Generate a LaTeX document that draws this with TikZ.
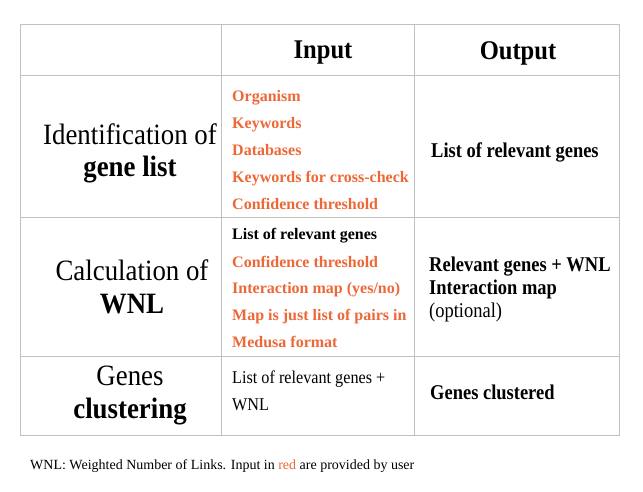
\documentclass[tikz,border=0pt]{standalone}
\usepackage{fontspec}
\setmainfont{Liberation Serif}
\newfontfamily\lcolfont[FakeStretch=0.91]{Liberation Serif}
\newfontfamily\ocolfont[FakeStretch=0.88]{Liberation Serif}
\newfontfamily\icolfont[FakeStretch=0.9]{Liberation Serif}
\definecolor{usr}{RGB}{237,104,56}
\definecolor{gridc}{RGB}{192,192,192}
\tikzset{
  gridline/.style={draw=gridc, line width=1pt},
  hdrtext/.style={inner sep=0pt, anchor=base, font=\lcolfont\bfseries\fontsize{27}{27}\selectfont},
  lefttext/.style={inner sep=0pt, anchor=base, font=\lcolfont\fontsize{29.5}{30}\selectfont},
  intext/.style={inner sep=0pt, anchor=base west, font=\bfseries\fontsize{16}{16}\selectfont, text=usr},
  inplain/.style={inner sep=0pt, anchor=base west, font=\icolfont\fontsize{18}{18}\selectfont},
  outtext/.style={inner sep=0pt, anchor=base west, font=\ocolfont\bfseries\fontsize{21}{21}\selectfont},
  outplain/.style={inner sep=0pt, anchor=base west, font=\ocolfont\fontsize{21}{21}\selectfont},
  notetext/.style={inner sep=0pt, anchor=base west, font=\fontsize{14}{14}\selectfont},
}
\begin{document}
\begin{tikzpicture}[x=1pt,y=-1pt]
\useasboundingbox (0,0) rectangle (643,492);
\fill[white] (0,0) rectangle (643,492);
% grid
\draw[gridline] (20,25) rectangle (619,435);
\draw[gridline] (20,76) -- (619,76);
\draw[gridline] (20,217) -- (619,217);
\draw[gridline] (20,356) -- (619,356);
\draw[gridline] (221,25) -- (221,435);
\draw[gridline] (414,25) -- (414,435);
% header
\node[hdrtext] (hin) at (323,59) {Input};
\node[hdrtext] (hout) at (518,60) {Output};
% left column
\node[lefttext] (l1a) at (130,145) {Identification of};
\node[lefttext] (l1b) at (130,177) {\bfseries gene list};
\node[lefttext] (l2a) at (132,280) {Calculation of};
\node[lefttext] (l2b) at (132,313) {\bfseries WNL};
\node[lefttext] (l3a) at (130,385) {Genes};
\node[lefttext] (l3b) at (130,418) {\bfseries clustering};
% input column row 1
\node[intext] (i11) at (232,102) {Organism};
\node[intext] (i12) at (232,128.5) {Keywords};
\node[intext] (i13) at (232,155.5) {Databases};
\node[intext] (i14) at (232,182.5) {Keywords for cross-check};
\node[intext] (i15) at (232,209) {Confidence threshold};
% input column row 2
\node[intext, text=black] (i21) at (232,240) {List of relevant genes};
\node[intext] (i22) at (232,267) {Confidence threshold};
\node[intext] (i23) at (232,293.5) {Interaction map (yes/no)};
\node[intext] (i24) at (232,320) {Map is just list of pairs in};
\node[intext] (i25) at (232,347) {Medusa format};
% input column row 3
\node[inplain] (i31) at (232,383) {List of relevant genes +};
\node[inplain] (i32) at (232,410) {WNL};
% output column
\node[outtext] (o1) at (431,158) {List of relevant genes};
\node[outtext] (o21) at (429,271) {Relevant genes + WNL};
\node[outtext] (o22) at (429,294) {Interaction map};
\node[outplain] (o23) at (429,317) {(optional)};
\node[outtext] (o3) at (430,399) {Genes clustered};
% footnote
\node[notetext] (note) at (30,469) {WNL: Weighted Number of Links. Input in \textcolor{usr}{red} are provided by user};
\end{tikzpicture}
\end{document}
